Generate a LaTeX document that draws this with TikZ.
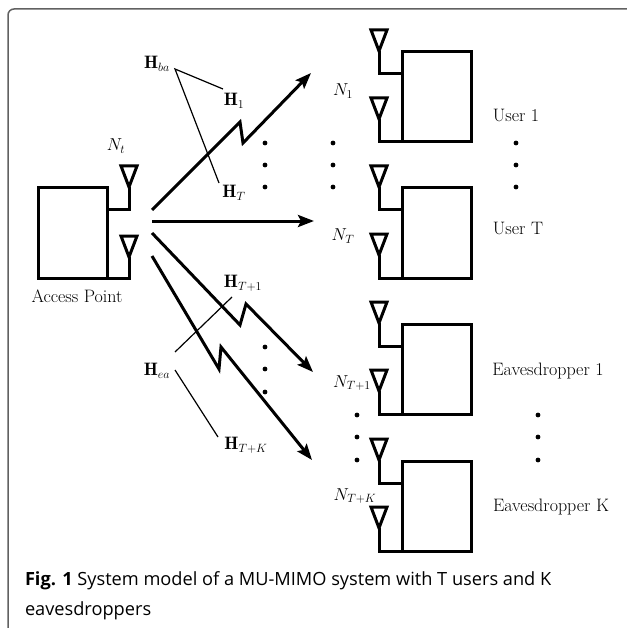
\documentclass[tikz,border=0pt]{standalone}
\usepackage{fontspec}
\newfontfamily\capfont{Open Sans}
\usetikzlibrary{arrows.meta}
\begin{document}
\begin{tikzpicture}[x=1pt,y=-1pt,
  every node/.style={inner sep=0pt,outer sep=0pt,font=\fontsize{18}{21}\selectfont},
  thick line/.style={line width=3pt},
  devbox/.style={draw,line width=3pt,minimum width=69pt,minimum height=90pt,inner sep=0pt},
  link/.style={line width=3pt,-{Stealth[length=16pt,width=12pt,inset=3pt]}},
  tag/.style={line width=1.2pt},
  dot/.style={circle,fill=black,minimum size=4.8pt,inner sep=0pt},
  frame/.style={draw=black!62,line width=1.5pt,rounded corners=6pt}]
\useasboundingbox (0,0) rectangle (626,628);
\path[frame] (8,640) -- (8,9) -- (640,9);

% ---------- boxes ----------
\node[devbox] (ap) at (72.5,233) {};
\node[devbox] (u1) at (436.5,97) {};
\node[devbox] (uT) at (436.5,233) {};
\node[devbox] (e1) at (436.5,369.5) {};
\node[devbox] (eK) at (436.5,506.5) {};

% ---------- antennas ----------
% access point
\draw[thick line,line join=miter] (121,166) -- (137,166) -- (129,187) -- cycle;
\draw[thick line] (129,187) |- (ap.east |- 0,210);
\draw[thick line,line join=miter] (121,236) -- (137,236) -- (129,257) -- cycle;
\draw[thick line] (129,257) |- (ap.south east);
% users / eavesdroppers
\foreach \b/\t in {u1/52,uT/188,e1/324,eK/461}{
  \draw[thick line,line join=miter] (371,\t-22) -- (387,\t-22) -- (379,\t-1) -- cycle;
  \draw[thick line] (379,\t-1) |- (\b.west |- 0,\t+22);
  \draw[thick line,line join=miter] (371,\t+46) -- (387,\t+46) -- (379,\t+67) -- cycle;
  \draw[thick line] (379,\t+67) |- (\b.south west);
}

% ---------- links ----------
\coordinate (s1) at (152,210);
\coordinate (z1a) at (240,122);
\coordinate (z1b) at (243,143);
\coordinate (t1) at (311,73);
\draw[link,line join=miter] (s1) -- (z1a) -- (z1b) -- (t1);

\coordinate (s2) at (152,221);
\coordinate (t2) at (314,221);
\draw[link] (s2) -- (t2);

\coordinate (s3) at (152,233);
\coordinate (z3a) at (240,325);
\coordinate (z3b) at (246,304);
\coordinate (t3) at (313,372);
\draw[link,line join=miter] (s3) -- (z3a) -- (z3b) -- (t3);

\coordinate (s4) at (152,256);
\coordinate (z4a) at (219,369);
\coordinate (z4b) at (221,347);
\coordinate (t4) at (312,460);
\draw[link,line join=miter] (s4) -- (z4a) -- (z4b) -- (t4);

% ---------- labels ----------
\node (Nt) at (116,146) {$N_t$};
\node (apl) at (77,296) {Access Point};
\node (Hba) at (157,64) {$\mathbf{H}_{ba}$};
\node (H1) at (234,101) {$\mathbf{H}_{1}$};
\node (HT) at (234,193) {$\mathbf{H}_{T}$};
\node (HT1) at (243,283) {$\mathbf{H}_{T+1}$};
\node (Hea) at (157,371) {$\mathbf{H}_{ea}$};
\node (HTK) at (246,445) {$\mathbf{H}_{T+K}$};

\coordinate (ba) at (175,69);
\coordinate (baH1) at (223,89);
\coordinate (baHT) at (219,183);
\draw[tag] (baH1) -- (ba) -- (baHT);
\coordinate (t1a) at (232,297);
\coordinate (t1b) at (175,352);
\draw[tag] (t1a) -- (t1b);
\coordinate (eaa) at (175,370);
\coordinate (eab) at (218,437);
\draw[tag] (eaa) -- (eab);

\node (N1) at (343,91) {$N_1$};
\node (NT) at (343,236) {$N_T$};
\node (NT1) at (352,383) {$N_{T+1}$};
\node (NTK) at (355,496) {$N_{T+K}$};

\node (lu1) at (516,115) {User 1};
\node (luT) at (518,228) {User T};
\node (le1) at (548,371) {Eavesdropper 1};
\node (leK) at (551,507) {Eavesdropper K};

% ---------- dots ----------
\foreach \y in {143,165,187}{
  \node[dot] at (265,\y) {};
  \node[dot] at (333,\y) {};
  \node[dot] at (516,\y) {};
}
\foreach \y in {347,369,392}{
  \node[dot] at (265,\y) {};
}
\foreach \y in {415,437,460}{
  \node[dot] at (357,\y) {};
  \node[dot] at (538,\y) {};
}

% ---------- caption ----------
\node[anchor=base west,font=\capfont\fontsize{18.2}{21}\selectfont] (cap1) at (25,585)
  {\textbf{Fig. 1} System model of a MU-MIMO system with T users and K};
\node[anchor=base west,font=\capfont\fontsize{18.2}{21}\selectfont] (cap2) at (25,615)
  {eavesdroppers};
\end{tikzpicture}
\end{document}
